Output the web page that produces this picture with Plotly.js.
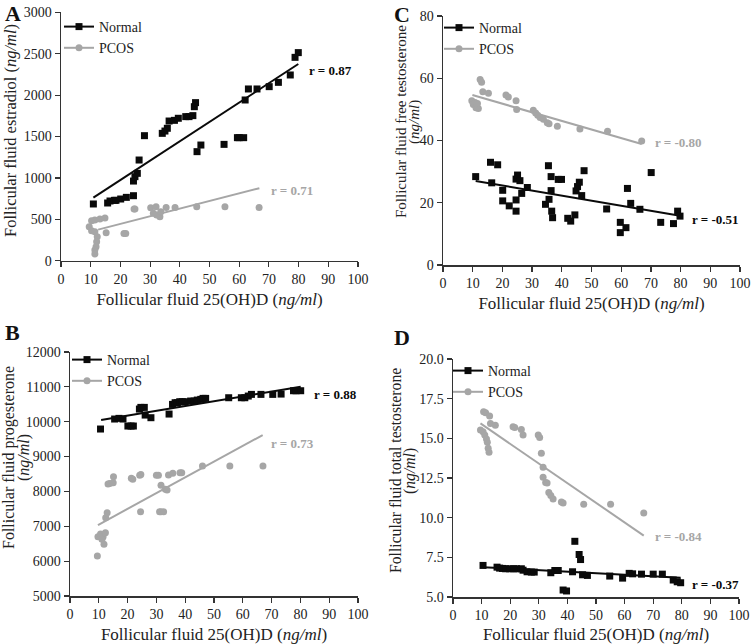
<!DOCTYPE html>
<html><head><meta charset="utf-8">
<script src="https://cdn.plot.ly/plotly-3.0.1.min.js"></script>
<style>body{margin:0;background:#fff}#chart{width:751px;height:644px}</style>
</head><body><div id="chart"></div>
<script>
// ---------- Panel A: estradiol ----------
const A_normal_x = [10.9,15.7,16.5,18.0,18.5,20.1,22.0,24.4,24.4,24.9,25.7,26.3,28.1,34.1,35.0,35.8,36.4,38.2,39.5,42.0,43.1,44.4,44.9,45.3,45.8,47.1,54.9,59.4,60.0,61.5,62.0,63.1,66.0,70.1,73.2,77.2,78.8,79.9];
const A_normal_y = [685,697,721,729,729,745,765,785,962,1015,1055,1216,1510,1538,1566,1599,1687,1695,1720,1740,1740,1752,1860,1909,1317,1397,1405,1486,1486,1486,1941,2074,2074,2102,2154,2243,2456,2513];
const A_pcos_x = [9.5,10.3,11.4,13.1,14.8,10.3,11.4,12.2,12.0,11.8,11.4,11.4,15.2,21.2,21.8,24.6,24.9,30.2,32.0,31.1,32.2,33.3,33.6,35.4,38.4,45.7,55.2,66.7];
const A_pcos_y = [411,483,491,503,515,362,350,290,230,169,129,81,338,330,330,624,624,640,652,572,552,531,592,644,644,652,652,644];
const A_fit_normal_x = [10.9,79.9], A_fit_normal_y = [761,2376];
const A_fit_pcos_x = [12.5,66.8], A_fit_pcos_y = [375,876];

// ---------- Panel C: free testosterone ----------
const C_normal_x = [11.0,16.0,18.4,16.4,20.1,20.1,22.3,24.6,24.6,24.6,25.1,25.9,26.5,28.4,34.5,35.5,35.7,36.4,36.4,36.6,36.9,38.8,39.9,42.0,43.0,44.4,44.8,45.3,45.9,46.7,47.5,55.1,59.7,59.7,61.6,62.1,63.2,66.3,70.1,73.3,77.6,79.0,79.8];
const C_normal_y = [28.4,33.0,32.2,26.4,24.0,20.6,19.0,17.3,20.9,27.6,28.9,27.1,23.0,24.9,19.5,31.9,21.1,28.4,23.9,17.3,15.2,27.5,27.5,15.0,14.1,16.1,23.8,25.2,26.6,22.3,30.3,18.0,13.7,10.4,12.0,24.6,19.8,17.9,29.7,13.7,13.3,17.3,15.7];
const C_pcos_x = [9.7,10.2,10.8,11.1,11.9,11.6,12.5,13.0,13.4,15.3,21.2,22.0,24.6,24.8,30.4,31.2,31.9,32.7,33.8,35.1,35.7,38.5,46.1,55.4,66.9];
const C_pcos_y = [52.8,51.6,52.2,50.5,50.3,51.9,59.6,58.7,55.7,55.2,54.6,54.0,52.8,50.0,49.7,48.8,48.1,47.4,46.8,45.7,45.4,44.6,43.7,43.0,39.8];
const C_fit_normal_x = [11.0,79.8], C_fit_normal_y = [27.0,15.8];
const C_fit_pcos_x = [9.9,66.9], C_fit_pcos_y = [54.6,38.9];

// ---------- Panel B: progesterone ----------
const B_normal_x = [10.6,15.5,17.0,18.4,20.1,21.2,22.0,24.1,24.6,25.8,26.1,28.1,34.4,35.6,36.5,37.3,38.1,39.0,40.0,41.9,43.1,44.2,45.4,46.2,47.1,55.1,59.5,60.7,61.9,63.0,66.3,70.4,73.3,77.6,78.5,80.1];
const B_normal_y = [9790,10077,10096,10077,9876,9876,9876,10363,10411,10411,10191,10115,10220,10497,10545,10545,10574,10574,10574,10593,10593,10621,10641,10669,10669,10688,10688,10688,10736,10784,10784,10784,10793,10889,10889,10889];
const B_pcos_x = [9.5,9.7,10.6,11.5,11.1,11.8,12.3,12.4,12.9,13.2,13.8,15.0,15.1,21.3,21.8,24.2,24.6,24.5,30.0,30.7,31.6,31.1,31.6,32.5,33.1,33.7,34.2,35.7,38.2,38.8,46.0,55.5,67.0];
const B_pcos_y = [6147,6702,6778,6702,6625,6482,6816,7247,7390,8212,8231,8250,8423,8375,8346,8461,8489,7418,8461,8461,8174,7418,7418,7418,8059,8040,8470,8518,8537,8537,8728,8728,8728];
const B_fit_normal_x = [10.8,80.1], B_fit_normal_y = [10048,11004];
const B_fit_pcos_x = [9.7,66.9], B_fit_pcos_y = [7036,9618];

// ---------- Panel D: total testosterone ----------
const D_normal_x = [10.5,15.4,16.3,17.3,18.4,19.8,21.2,22.2,23.9,24.5,25.9,27.4,28.4,34.2,35.6,36.8,38.5,39.7,41.8,42.6,44.1,44.6,45.3,47.0,54.8,59.3,61.6,62.8,65.9,70.0,73.2,77.0,78.4,79.6];
const D_normal_y = [6.99,6.88,6.82,6.80,6.78,6.78,6.78,6.78,6.78,6.69,6.59,6.57,6.57,6.53,6.67,6.67,5.44,5.38,6.59,8.51,7.68,7.36,6.40,6.36,6.32,6.19,6.49,6.46,6.44,6.44,6.44,6.07,5.96,5.90];
const D_pcos_x = [9.6,10.5,11.1,11.7,12.0,12.3,12.6,10.7,11.4,12.8,13.1,14.8,21.0,21.6,23.9,24.5,29.8,30.3,30.9,31.5,31.5,32.4,32.9,33.5,34.2,35.0,37.9,38.5,45.7,55.1,66.7];
const D_pcos_y = [15.52,15.42,15.21,14.96,14.75,14.37,14.12,16.67,16.61,16.40,15.94,15.82,15.73,15.69,15.56,15.21,15.21,15.06,14.06,13.18,12.55,12.22,12.18,11.59,11.40,11.17,10.98,10.92,10.84,10.84,10.29];
const D_fit_normal_x = [10.5,79.6], D_fit_normal_y = [6.88,6.21];
const D_fit_pcos_x = [9.6,66.7], D_fit_pcos_y = [15.94,8.87];

// labels
const seriesNames = ['Normal','PCOS'];
const xTitle = 'Follicular fluid 25(OH)D (<i>ng/ml</i>)';
const unitLine = '(<i>ng/ml</i>)';
const yTitleLines = {
  A: ['Follicular fluid estradiol (<i>ng/ml</i>)'],
  C: ['Follicular fluid free testosterone', unitLine],
  B: ['Follicular fluid progesterone', unitLine],
  D: ['Follicular fluid total testosterone', unitLine]
};
const rLabels = {A:['r = 0.87','r = 0.71'], C:['r = -0.51','r = -0.80'], B:['r = 0.88','r = 0.73'], D:['r = -0.37','r = -0.84']};

const BLACK = '#0a0a0a', GRAY = '#a6a6a6';
const FONT = '"Liberation Serif", "Times New Roman", Times, serif';
const W = 751, H = 644;

const panels = [
  {id:'A', xa:'x',  ya:'y',  lg:'legend',  nx:A_normal_x, ny:A_normal_y, px:A_pcos_x, py:A_pcos_y, fnx:A_fit_normal_x, fny:A_fit_normal_y, fpx:A_fit_pcos_x, fpy:A_fit_pcos_y},
  {id:'C', xa:'x2', ya:'y2', lg:'legend2', nx:C_normal_x, ny:C_normal_y, px:C_pcos_x, py:C_pcos_y, fnx:C_fit_normal_x, fny:C_fit_normal_y, fpx:C_fit_pcos_x, fpy:C_fit_pcos_y},
  {id:'B', xa:'x3', ya:'y3', lg:'legend3', nx:B_normal_x, ny:B_normal_y, px:B_pcos_x, py:B_pcos_y, fnx:B_fit_normal_x, fny:B_fit_normal_y, fpx:B_fit_pcos_x, fpy:B_fit_pcos_y},
  {id:'D', xa:'x4', ya:'y4', lg:'legend4', nx:D_normal_x, ny:D_normal_y, px:D_pcos_x, py:D_pcos_y, fnx:D_fit_normal_x, fny:D_fit_normal_y, fpx:D_fit_pcos_x, fpy:D_fit_pcos_y}
];

const traces = [];
panels.forEach(p => {
  traces.push({x:p.fpx, y:p.fpy, xaxis:p.xa, yaxis:p.ya, mode:'lines', line:{color:GRAY,width:2}, showlegend:false, hoverinfo:'skip'});
  traces.push({x:p.fnx, y:p.fny, xaxis:p.xa, yaxis:p.ya, mode:'lines', line:{color:BLACK,width:2}, showlegend:false, hoverinfo:'skip'});
  traces.push({x:p.px, y:p.py, xaxis:p.xa, yaxis:p.ya, mode:'markers', name:seriesNames[1], marker:{symbol:'circle', size:7, color:GRAY}, showlegend:false, cliponaxis:false});
  traces.push({x:p.nx, y:p.ny, xaxis:p.xa, yaxis:p.ya, mode:'markers', name:seriesNames[0], marker:{symbol:'square', size:7, color:BLACK}, showlegend:false, cliponaxis:false});
  // legend entries
  traces.push({x:[null], y:[null], xaxis:p.xa, yaxis:p.ya, mode:'lines+markers', name:seriesNames[0], legend:p.lg, legendgroup:p.id+'n', line:{color:BLACK,width:2}, marker:{symbol:'square',size:7,color:BLACK}});
  traces.push({x:[null], y:[null], xaxis:p.xa, yaxis:p.ya, mode:'lines+markers', name:seriesNames[1], legend:p.lg, legendgroup:p.id+'p', line:{color:GRAY,width:2}, marker:{symbol:'circle',size:7,color:GRAY}});
});

function dom(a, b, len) { return [a/len, b/len]; }
function ydom(top, bottom) { return [1 - bottom/H, 1 - top/H]; }

function xaxis(d, anchor) {
  return {domain:d, anchor:anchor, range:[0,100], dtick:10, tick0:0, showline:true, linecolor:'#333', linewidth:1.5,
    ticks:'outside', ticklen:5, tickcolor:'#333', tickwidth:1.2, showgrid:false, zeroline:false,
    tickfont:{family:FONT,size:14,color:'#222'},
    title:{text:xTitle, font:{family:FONT,size:17,color:'#222'}, standoff:7}};
}
function yaxis(d, anchor, range, dtick, fmt) {
  return {domain:d, anchor:anchor, range:range, dtick:dtick, tick0:range[0], showline:true, linecolor:'#333', linewidth:1.5,
    ticks:'outside', ticklen:5, tickcolor:'#333', tickwidth:1.2, showgrid:false, zeroline:false, tickformat:fmt,
    tickfont:{family:FONT,size:14,color:'#222'}};
}
function legend(xpx, ytop) {
  return {x:xpx/W, y:1-ytop/H, xanchor:'left', yanchor:'top', bgcolor:'rgba(0,0,0,0)', borderwidth:0,
    font:{family:FONT,size:14,color:'#222'}, itemwidth:30, tracegroupgap:3, traceorder:'normal'};
}

const annotations = [];
function letter(t, xpx, ypx) {
  annotations.push({text:'<b>'+t+'</b>', xref:'paper', yref:'paper', x:xpx/W, y:1-ypx/H, xanchor:'left', yanchor:'middle', showarrow:false, font:{family:FONT,size:22,color:'#111'}});
}
function ytitle(lines, xs, ycenter, size) {
  lines.forEach((t, i) => annotations.push({text:t, xref:'paper', yref:'paper', x:xs[i]/W, y:1-ycenter/H, xanchor:'center', yanchor:'middle', textangle:-90, showarrow:false, font:{family:FONT,size:size,color:'#222'}}));
}
function rlab(t, xr, yr, x, y, c) {
  annotations.push({text:'<b>'+t+'</b>', xref:xr, yref:yr, x:x, y:y, xanchor:'left', yanchor:'middle', showarrow:false, font:{family:FONT,size:13,color:c}});
}
letter('A', 3, 13); letter('C', 392, 15); letter('B', 3, 333); letter('D', 392, 337);
ytitle(yTitleLines.A, [11], 131, 16.5);
ytitle(yTitleLines.C, [401, 415], 122, 15);
ytitle(yTitleLines.B, [9, 24], 458, 16);
ytitle(yTitleLines.D, [395, 410], 471, 15.7);
rlab(rLabels.A[0], 'x', 'y', 82.8, 2303, BLACK);
rlab(rLabels.A[1], 'x', 'y', 70.0, 842, GRAY);
rlab(rLabels.C[0], 'x2', 'y2', 83.2, 14.5, BLACK);
rlab(rLabels.C[1], 'x2', 'y2', 70.7, 39.2, GRAY);
rlab(rLabels.B[0], 'x3', 'y3', 84.0, 10795, BLACK);
rlab(rLabels.B[1], 'x3', 'y3', 69.1, 9389, GRAY);
rlab(rLabels.D[0], 'x4', 'y4', 82.9, 5.76, BLACK);
rlab(rLabels.D[1], 'x4', 'y4', 69.9, 8.84, GRAY);

const layout = {
  width:W, height:H, margin:{l:0,r:0,t:0,b:0}, paper_bgcolor:'#fff', plot_bgcolor:'#fff',
  font:{family:FONT, color:'#222'},
  xaxis: xaxis(dom(61,358,W), 'y'),
  yaxis: yaxis(ydom(12.3,260.7), 'x', [0,3000], 500, 'd'),
  xaxis2: xaxis(dom(443,740,W), 'y2'),
  yaxis2: yaxis(ydom(16,265), 'x2', [0,80], 20, 'd'),
  xaxis3: xaxis(dom(70,358,W), 'y3'),
  yaxis3: yaxis(ydom(352,596), 'x3', [5000,12000], 1000, 'd'),
  xaxis4: xaxis(dom(453,739,W), 'y4'),
  yaxis4: yaxis(ydom(359,597), 'x4', [5,20], 2.5, '.1f'),
  legend: legend(59, 11),
  legend2: legend(439, 12),
  legend3: legend(67, 344),
  legend4: legend(448, 355),
  annotations: annotations
};

Plotly.newPlot('chart', traces, layout, {displayModeBar:false, staticPlot:true});
</script>
</body></html>
